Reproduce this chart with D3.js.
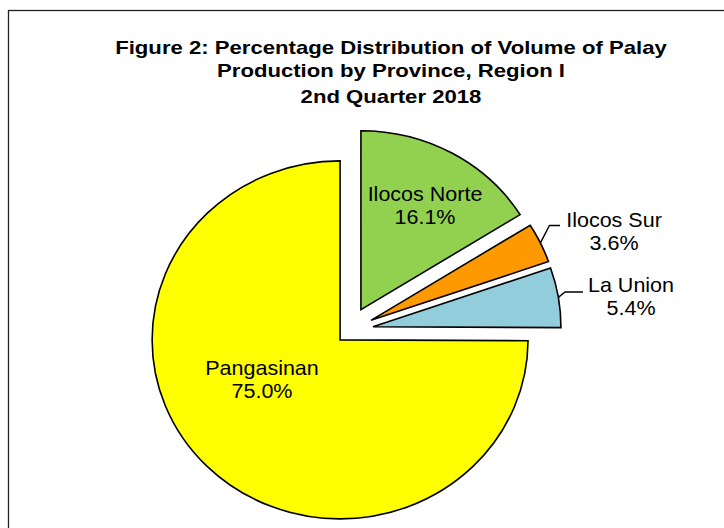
<!DOCTYPE html>
<html>
<head>
<meta charset="utf-8">
<script src="https://cdn.jsdelivr.net/npm/d3@7"></script>
<style>
  body { margin: 0; background: #fff; }
  svg { display: block; font-family: Arial, "Liberation Sans", sans-serif; }
</style>
</head>
<body>
<div id="chart"></div>
<script>
(function () {
  /* ----------------------- Data ----------------------- */
  const provinces = ["Ilocos Norte", "Ilocos Sur", "La Union", "Pangasinan"];
  const shares = [16.1, 3.6, 5.4, 75.0];
  const sliceColors = ["#92d050", "#ff9900", "#92cddc", "#ffff00"];
  const titleLines = [
    "Figure 2: Percentage Distribution of Volume of Palay",
    "Production by Province, Region I",
    "2nd Quarter 2018",
  ];

  /* ----------------------- Dimensions ----------------------- */
  const W = 724, H = 528;
  const cx = 349.3, cy = 330.7;
  const radius = 179;
  const stretchX = 1.05; // the source image is slightly wider than tall
  const explode = [24, 24, 24, 13];
  const titleBaselines = [54.3, 77, 103];

  const svg = d3
    .select("#chart")
    .append("svg")
    .attr("width", W)
    .attr("height", H);

  // frame
  svg
    .append("rect")
    .attr("x", 8.5)
    .attr("y", 10.5)
    .attr("width", W + 20)
    .attr("height", H + 20)
    .attr("fill", "none")
    .attr("stroke", "#222")
    .attr("stroke-width", 1.3);

  // title (text in the source is stretched wide)
  svg
    .append("g")
    .attr("transform", "translate(391,0) scale(1.19,1)")
    .selectAll("text")
    .data(titleLines)
    .enter()
    .append("text")
    .attr("x", 0)
    .attr("y", (d, i) => titleBaselines[i])
    .attr("text-anchor", "middle")
    .style("font-size", "18.6px")
    .style("font-weight", "bold")
    .style("fill", "#000")
    .text((d) => d);

  /* ----------------------- Pie ----------------------- */
  const pie = d3.pie().sort(null).value((d) => d)(shares);
  const arc = d3.arc().innerRadius(0).outerRadius(radius);

  const pieGroup = svg
    .append("g")
    .attr("transform", `translate(${cx},${cy}) scale(${stretchX},1)`);

  const midAngle = (d) => (d.startAngle + d.endAngle) / 2;

  pieGroup
    .selectAll("path")
    .data(pie)
    .enter()
    .append("path")
    .attr("transform", (d, i) => {
      const a = midAngle(d);
      return `translate(${(explode[i] * Math.sin(a)) / stretchX},${-explode[i] * Math.cos(a)})`;
    })
    .attr("d", arc)
    .attr("fill", (d, i) => sliceColors[i])
    .attr("stroke", "#000")
    .attr("stroke-width", 1.6)
    .attr("stroke-linejoin", "miter")
    .attr("vector-effect", "non-scaling-stroke");

  // screen point on a slice's outer edge, at its mid angle
  function outerPoint(i) {
    const d = pie[i];
    const a = midAngle(d);
    return [
      cx + (explode[i] + radius * stretchX) * Math.sin(a),
      cy - (explode[i] + radius) * Math.cos(a),
    ];
  }

  /* ----------------------- Labels ----------------------- */
  const inside = [
    { i: 0, x: 425, y: 201 },
    { i: 3, x: 262, y: 375 },
  ];
  const outside = [
    { i: 1, bend: [549.5, 225.5], end: 560, x: 614, y: 227 },
    { i: 2, bend: [565, 292], end: 583, x: 631, y: 292.5 },
  ];

  const labelGroup = svg.append("g").style("font-size", "20.5px").style("fill", "#000");

  [...inside, ...outside].forEach((l) => {
    const t = labelGroup
      .append("text")
      .attr("text-anchor", "middle")
      .attr("transform", `translate(${l.x},0) scale(${stretchX},1)`);
    t.append("tspan").attr("x", 0).attr("y", l.y).text(provinces[l.i]);
    t.append("tspan")
      .attr("x", 0)
      .attr("y", l.y + 23)
      .text(shares[l.i].toFixed(1) + "%");
  });

  // leader lines
  outside.forEach((l) => {
    const p = outerPoint(l.i);
    svg
      .append("path")
      .attr("d", d3.line()([p, l.bend, [l.end, l.bend[1]]]))
      .attr("fill", "none")
      .attr("stroke", "#000")
      .attr("stroke-width", 1.4);
  });
})();
</script>
</body>
</html>
